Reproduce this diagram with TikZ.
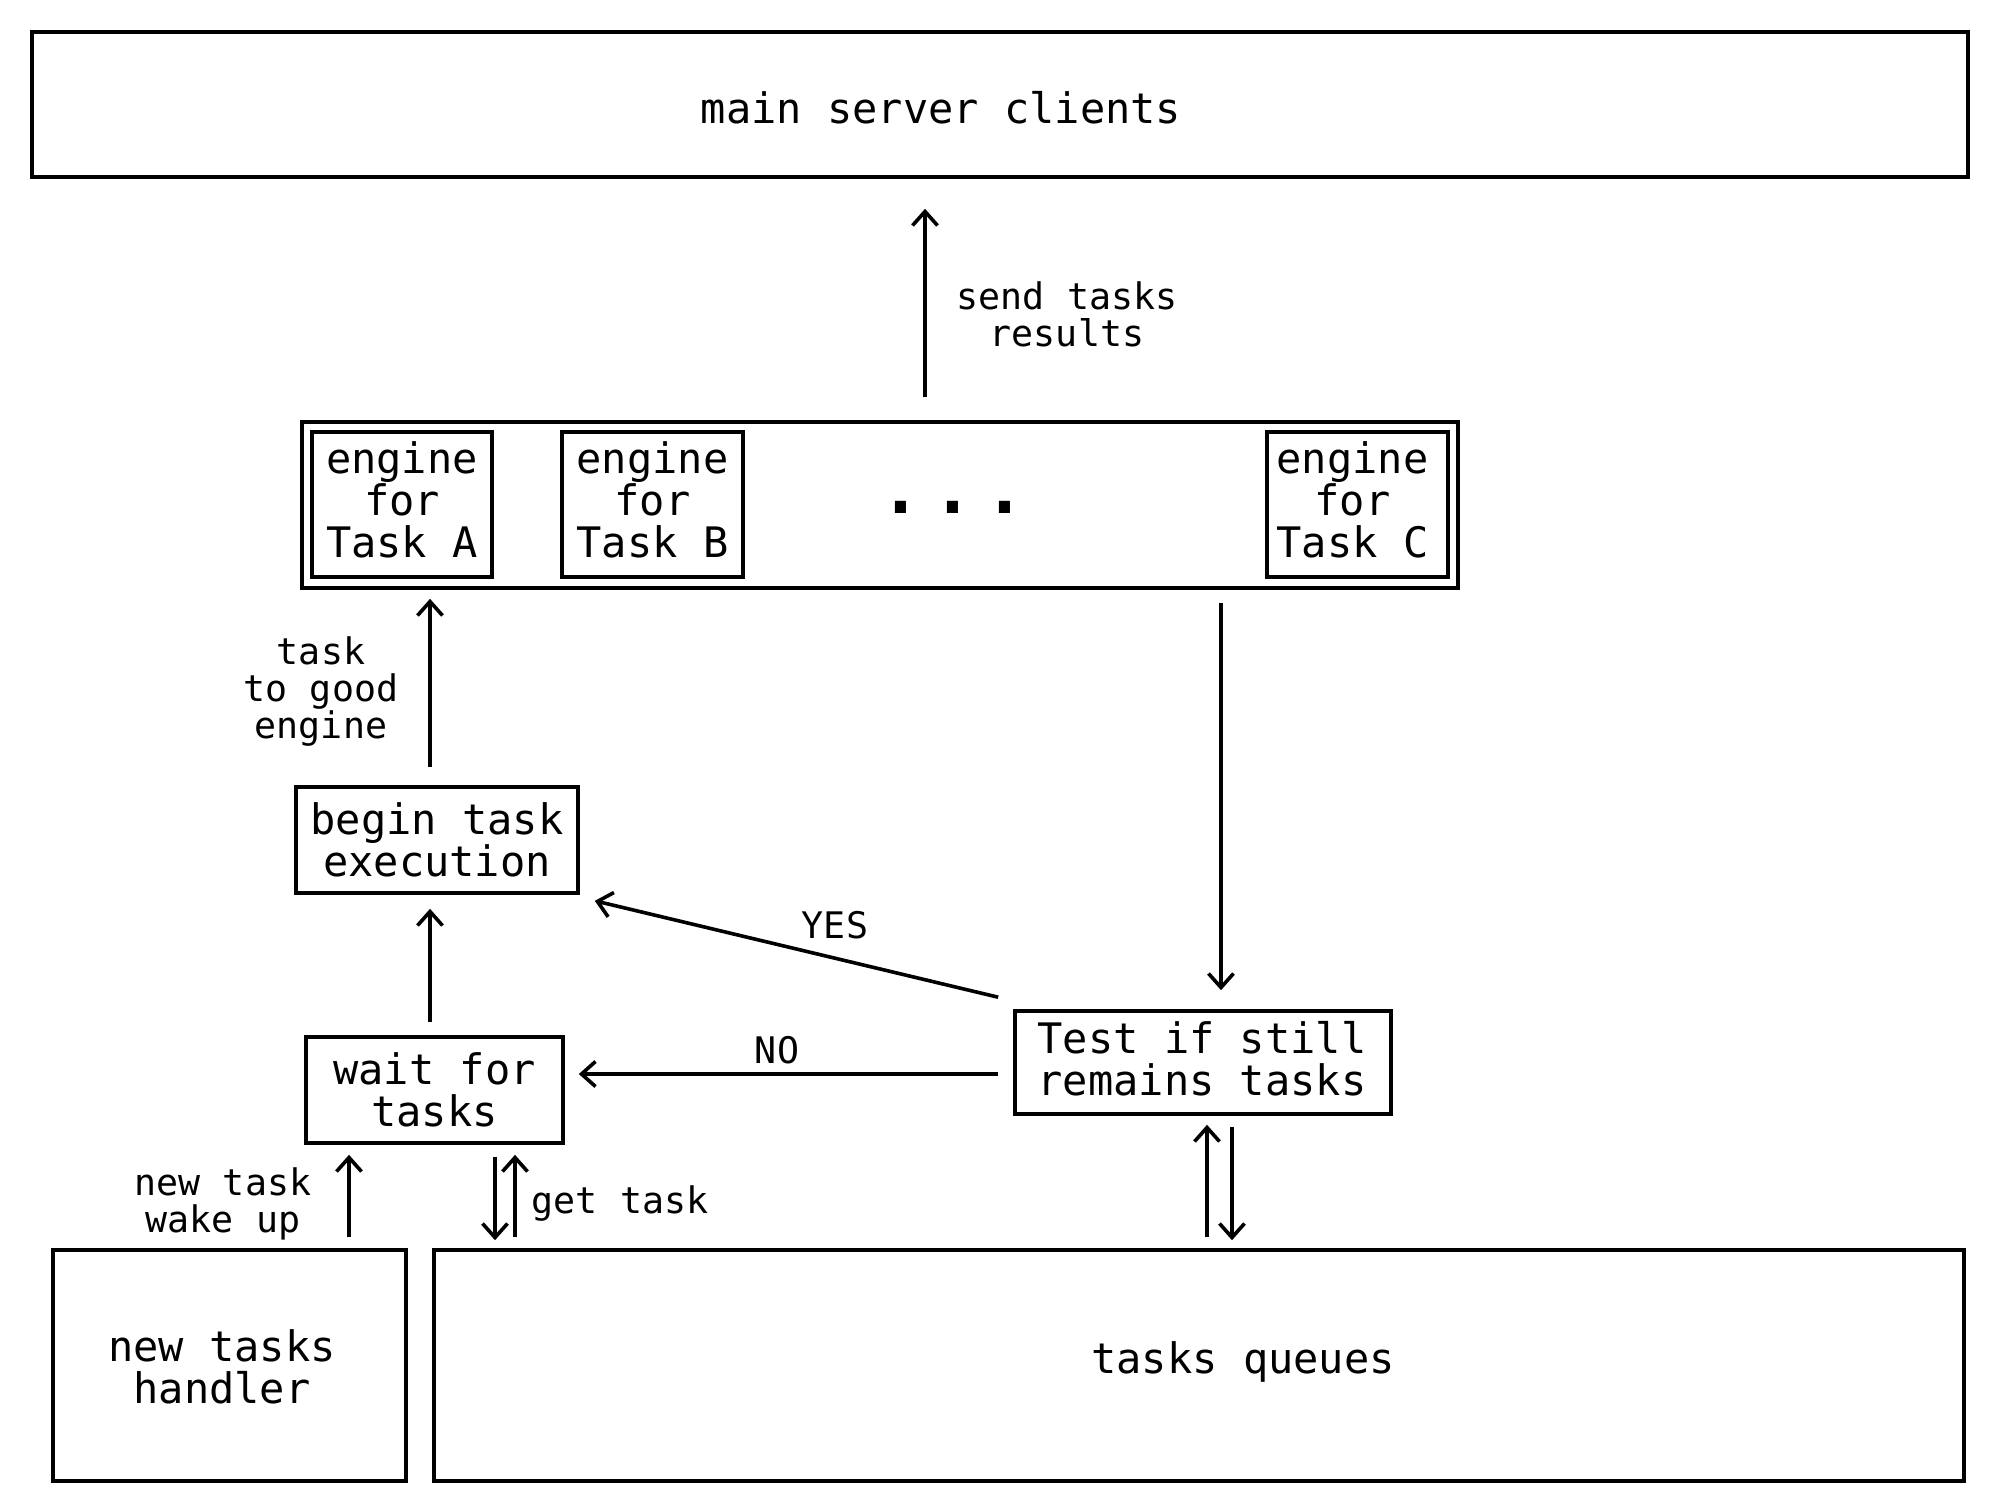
\documentclass[tikz,border=0pt]{standalone}
\usepackage{fontspec}
\setmainfont{DejaVu Sans Mono}
\usetikzlibrary{arrows.meta,calc}
\newcommand\bigfnt{\fontsize{21pt}{21pt}\selectfont}
\newcommand\smallfnt{\fontsize{18.3pt}{18.5pt}\selectfont}
\begin{document}
\begin{tikzpicture}[x=0.5pt,y=-0.5pt,
  box/.style={draw,line width=1.8pt,inner sep=0pt,align=center,font=\bigfnt},
  txt/.style={inner sep=0pt,align=center,font=\bigfnt},
  lbl/.style={inner sep=0pt,align=center,font=\smallfnt},
  arr/.style={line width=1.8pt,-{Straight Barb[length=7pt,width=12.5pt]}}]
\useasboundingbox (0,0) rectangle (2000,1500);
\fill[white] (0,0) rectangle (2000,1500);

% boxes
\node[box,minimum width=968pt,minimum height=72.5pt] (main) at (1000,104.5) {};
\node[txt,anchor=base] (maint) at (941,123) {main server clients};

\node[box,minimum width=578pt,minimum height=83pt] (engines) at (880,505) {};
\node[box,minimum width=90pt,minimum height=72.5pt] (engA) at (402,504.5) {};
\node[txt] (engAt) at (402,500) {engine\\for\\Task A};
\node[box,minimum width=90.5pt,minimum height=72.5pt] (engB) at (652.5,504.5) {};
\node[txt] (engBt) at (652.5,500) {engine\\for\\Task B};
\node[box,minimum width=90.5pt,minimum height=72.5pt] (engC) at (1357.5,504.5) {};
\node[txt] (engCt) at (1352.5,500) {engine\\for\\Task C};
\node[inner sep=0pt,anchor=base,font=\fontsize{34pt}{34pt}\selectfont\bfseries] (dots) at (953,513) {.\hspace{5.5pt}.\hspace{5.5pt}.};

\node[box,minimum width=141pt,minimum height=53pt] (begin) at (437,840) {begin task\\execution};
\node[box,minimum width=128.5pt,minimum height=53pt] (wait) at (434.5,1090) {wait for\\tasks};
\node[box,minimum width=188pt,minimum height=51.5pt] (test) at (1203,1062.5) {};
\node[txt] (testt) at (1202,1059) {Test if still\\remains tasks};

\node[box,minimum width=176.5pt,minimum height=115.5pt] (handler) at (229.5,1365.5) {};
\node[txt] (handlert) at (222,1367) {new tasks\\handler};
\node[box,minimum width=765pt,minimum height=115.5pt] (queue) at (1199,1365.5) {};
\node[txt,anchor=base] (queuet) at (1243,1373) {tasks queues};

% labels
\node[lbl] (sendl) at (1067,314) {send tasks\\results};
\node[lbl] (taskl) at (321,692) {task\\to good\\engine};
\node[lbl,anchor=base] (yesl) at (835,938) {YES};
\node[lbl,anchor=base] (nol) at (777,1063) {NO};
\node[lbl,anchor=base] (getl) at (620,1213) {get task};
\node[lbl] (newl) at (223,1204) {new task\\wake up};

% helper coordinates
\coordinate (sx) at (925,0);
\coordinate (dx) at (1221,0);
\coordinate (bx) at (430,0);
\coordinate (q1) at (1207,0);
\coordinate (q2) at (1232,0);
\coordinate (w1) at (495,0);
\coordinate (w2) at (515,0);
\coordinate (hx) at (349,0);
\coordinate (ny) at (0,1074);
\coordinate (ys) at ($(test.north west)+(-15,-12)$);
\coordinate (ye) at ($(begin.south east)+(15,6)$);

% connectors
\draw[arr,shorten <=11.5pt,shorten >=15pt] (engines.north -| sx) -- (main.south -| sx);
\draw[arr,shorten <=6.5pt,shorten >=9.5pt] (engines.south -| dx) -- (test.north -| dx);
\draw[arr,shorten <=9pt,shorten >=4.5pt] (begin.north -| bx) -- (engines.south -| bx);
\draw[arr,shorten <=6.5pt,shorten >=7pt] (wait.north -| bx) -- (begin.south -| bx);
\draw[arr] (ys) -- (ye);
\draw[arr,shorten <=7.5pt,shorten >=7pt] (test.west |- ny) -- (wait.east |- ny);
\draw[arr,shorten <=5.5pt,shorten >=4.5pt] (queue.north -| q1) -- (test.south -| q1);
\draw[arr,shorten <=5.5pt,shorten >=4pt] (test.south -| q2) -- (queue.north -| q2);
\draw[arr,shorten <=6pt,shorten >=4pt] (wait.south -| w1) -- (queue.north -| w1);
\draw[arr,shorten <=5.5pt,shorten >=5pt] (queue.north -| w2) -- (wait.south -| w2);
\draw[arr,shorten <=5.5pt,shorten >=5pt] (handler.north -| hx) -- (wait.south -| hx);
\end{tikzpicture}
\end{document}
